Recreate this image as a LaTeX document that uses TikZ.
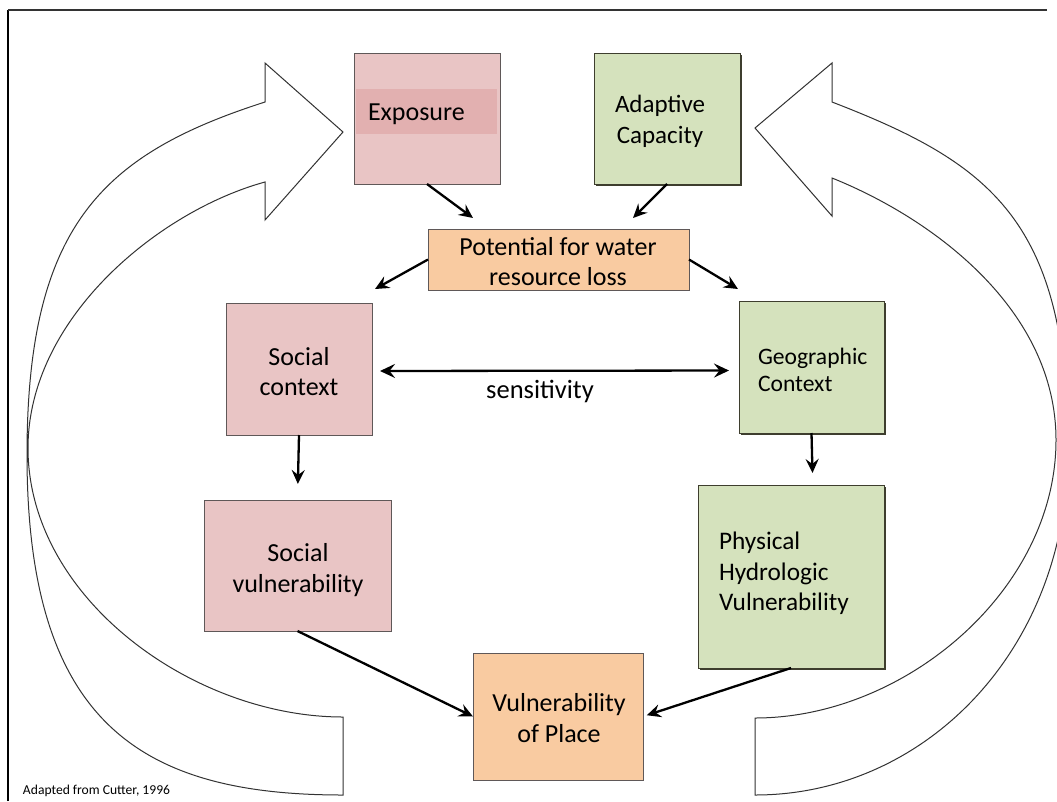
\documentclass[tikz,border=0pt]{standalone}
\usepackage{fontspec}
\setmainfont{Carlito}
\usetikzlibrary{arrows.meta,shadows}
\definecolor{pinkfill}{RGB}{233,197,197}
\definecolor{pinkband}{RGB}{226,176,176}
\definecolor{greenfill}{RGB}{213,226,189}
\definecolor{orangefill}{RGB}{249,203,161}
\definecolor{boxedge}{RGB}{95,88,88}
\definecolor{greenedge}{RGB}{62,62,46}
\definecolor{curveedge}{RGB}{50,50,50}
\begin{document}
\begin{tikzpicture}[x=1pt,y=-1pt,
  boxbase/.style={inner sep=0pt, outer sep=0pt, line width=1pt},
  pinkbox/.style={boxbase, draw=boxedge, fill=pinkfill,
    drop shadow={shadow xshift=1.2pt, shadow yshift=-1.2pt, opacity=.35, fill=black}},
  orangebox/.style={boxbase, draw=boxedge, fill=orangefill,
    drop shadow={shadow xshift=1.2pt, shadow yshift=-1.2pt, opacity=.35, fill=black}},
  greenbox/.style={boxbase, draw=greenedge, fill=greenfill,
    drop shadow={shadow xshift=1.8pt, shadow yshift=-2.4pt, opacity=1, fill=greenedge}},
  txt/.style={inner sep=0pt, outer sep=0pt, text=black},
  conn/.style={line width=2.3pt, draw=black, -{Stealth[length=14pt,width=13pt,inset=5pt]}},
  conntwo/.style={line width=2.3pt, draw=black, {Stealth[length=15pt,width=14pt,inset=5.5pt]}-{Stealth[length=15pt,width=14pt,inset=5.5pt]}},
  curvearrow/.style={draw=curveedge, line width=1pt, fill=white, line join=miter}]
\useasboundingbox (0,0) rectangle (1057,801);
\clip (0,0) rectangle (1057,801);
\fill[white] (0,0) rectangle (1057,801);

% frame
\draw[line width=2pt, black] (8,801) -- (8,10);
\draw[line width=1.2pt, black!80] (8,10) -- (1047,10);

% curved block arrows
\draw[curvearrow] (343,795) .. controls (143,795) and (27,725) .. (27,455)
  .. controls (27,225) and (103,154) .. (265,102)
  -- (265,63) -- (343,132) -- (265,220) -- (265,182)
  .. controls (159,211) and (28,318) .. (28,448)
  .. controls (28,598) and (193,717) .. (343,717) -- cycle;
\draw[curvearrow] (755,795) .. controls (925,795) and (1068,650) .. (1068,450)
  .. controls (1068,220) and (990,163) .. (832,102)
  -- (832,63) -- (755,128) -- (832,216) -- (832,178)
  .. controls (934,219) and (1056,310) .. (1056,440)
  .. controls (1056,590) and (905,718) .. (755,718) -- cycle;

% boxes
\node[pinkbox, minimum width=146pt, minimum height=131pt] (expo) at (427,118.5) {};
\fill[pinkband] (356,89) rectangle (497,134);
\node[greenbox, minimum width=146pt, minimum height=131pt] (adap) at (667,118.5) {};
\node[orangebox, minimum width=261pt, minimum height=61pt] (pot) at (558.5,259.5) {};
\node[pinkbox, minimum width=146pt, minimum height=132pt] (soc) at (299,369) {};
\node[greenbox, minimum width=145pt, minimum height=132pt] (geo) at (811.5,367) {};
\node[pinkbox, minimum width=187pt, minimum height=131pt] (svul) at (297.5,565.5) {};
\node[greenbox, minimum width=186pt, minimum height=183pt] (phys) at (791,576.5) {};
\node[orangebox, minimum width=170pt, minimum height=127pt] (place) at (558,716.5) {};

% texts
\node[txt, anchor=base west, font=\fontsize{26}{31}\selectfont] (tExpo) at (368,120) {Exposure};
\node[txt, align=center, font=\fontsize{25}{31}\selectfont] (tAdap) at (660,121.3) {\strut Adaptive\\Capacity\strut};
\node[txt, align=center, font=\fontsize{26}{30}\selectfont] (tPot) at (558,264) {\strut Potential for water\\resource loss\strut};
\node[txt, align=center, font=\fontsize{26}{30}\selectfont] (tSoc) at (299,374.5) {\strut Social\\context\strut};
\node[txt, anchor=west, align=left, font=\fontsize{23.6}{27}\selectfont] (tGeo) at (758,372.1) {\strut Geographic\\Context\strut};
\node[txt, anchor=base, font=\fontsize{26.5}{31}\selectfont] (tSens) at (540,398) {sensitivity};
\node[txt, align=center, font=\fontsize{26}{31}\selectfont] (tSvul) at (298,570.8) {\strut Social\\vulnerability\strut};
\node[txt, anchor=west, align=left, font=\fontsize{25.3}{30.5}\selectfont] (tPhys) at (719,573.9) {\strut Physical\\Hydrologic\\Vulnerability\strut};
\node[txt, align=center, font=\fontsize{26}{31}\selectfont] (tPlace) at (559,720.8) {\strut Vulnerability\\of Place\strut};
\node[txt, anchor=base west, font=\fontsize{13.6}{16}\selectfont] (tSrc) at (23,794) {Adapted from Cutter, 1996};

% connectors
\coordinate (eA) at (473,218);
\coordinate (aA) at (633,218);
\coordinate (pS) at (375,289);
\coordinate (pG) at (738,289);
\coordinate (gP) at (812.5,473);
\draw[conn] (expo.south) -- (eA);
\draw[conn] (adap.south) -- (aA);
\draw[conn] (pot.west) -- (pS);
\draw[conn] (pot.east) -- (pG);
\draw[conntwo, shorten <=8pt, shorten >=10pt] ([yshift=-2pt]soc.east) -- ([yshift=-3.5pt]geo.west);
\draw[conn, shorten >=16pt] (soc.south) -- (svul.north);
\draw[conn] (geo.south) -- (gP);
\draw[conn] (svul.south) -- (place.west);
\draw[conn, shorten >=4pt] (phys.south) -- (place.east);
\end{tikzpicture}
\end{document}
